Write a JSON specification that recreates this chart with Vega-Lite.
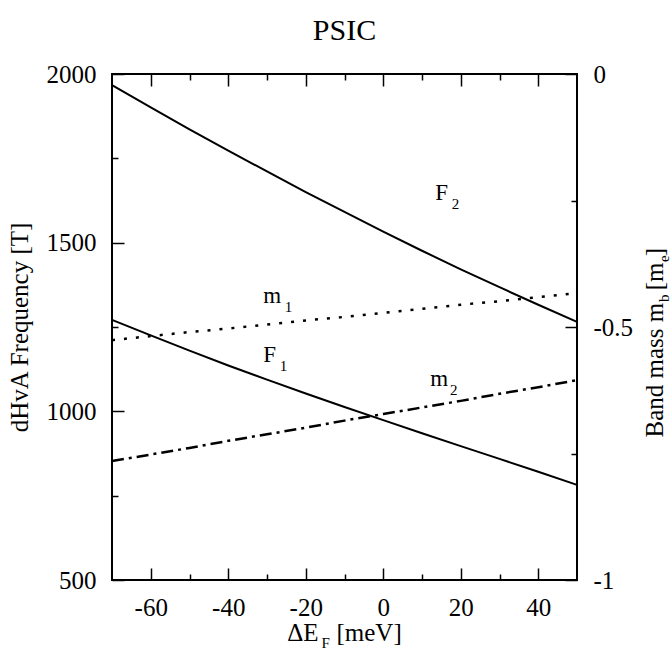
{
  "$schema": "https://vega.github.io/schema/vega-lite/v6.json",
  "width": 465,
  "height": 506,
  "autosize": {"type": "none"},
  "padding": {"left": 112, "top": 74, "right": 94, "bottom": 72},
  "background": "white",
  "title": {"text": "PSIC", "font": "Liberation Serif", "fontSize": 30, "fontWeight": "normal", "color": "black", "anchor": "middle", "frame": "group", "baseline": "alphabetic", "offset": -8},
  "config": {
    "view": {"stroke": "black", "strokeWidth": 2},
    "axis": {"labelFont": "Liberation Serif", "labelFontSize": 25, "labelColor": "black", "titleFont": "Liberation Serif", "titleFontSize": 25, "titleFontWeight": "normal", "titleColor": "black", "tickColor": "black", "tickWidth": 1.5, "grid": false, "domain": false, "labelFlush": false, "labelOverlap": false, "labelBound": false}
  },
  "datasets": {
    "freq": [
      {"x": -70, "F": 1271, "series": "F1"}, {"x": -60, "F": 1225, "series": "F1"}, {"x": -50, "F": 1180, "series": "F1"}, {"x": -40, "F": 1136, "series": "F1"}, {"x": -30, "F": 1094, "series": "F1"}, {"x": -20, "F": 1053, "series": "F1"}, {"x": -10, "F": 1013, "series": "F1"}, {"x": 0, "F": 974, "series": "F1"}, {"x": 10, "F": 935, "series": "F1"}, {"x": 20, "F": 897, "series": "F1"}, {"x": 30, "F": 859, "series": "F1"}, {"x": 40, "F": 821, "series": "F1"}, {"x": 50, "F": 782, "series": "F1"},
      {"x": -70, "F": 1967, "series": "F2"}, {"x": -60, "F": 1901, "series": "F2"}, {"x": -50, "F": 1836, "series": "F2"}, {"x": -40, "F": 1773, "series": "F2"}, {"x": -30, "F": 1711, "series": "F2"}, {"x": -20, "F": 1650, "series": "F2"}, {"x": -10, "F": 1591, "series": "F2"}, {"x": 0, "F": 1533, "series": "F2"}, {"x": 10, "F": 1476, "series": "F2"}, {"x": 20, "F": 1421, "series": "F2"}, {"x": 30, "F": 1368, "series": "F2"}, {"x": 40, "F": 1316, "series": "F2"}, {"x": 50, "F": 1265, "series": "F2"}
    ],
    "mass": [
      {"x": -70, "m": -0.526, "series": "m1"}, {"x": -60, "m": -0.518, "series": "m1"}, {"x": -50, "m": -0.510, "series": "m1"}, {"x": -40, "m": -0.503, "series": "m1"}, {"x": -30, "m": -0.495, "series": "m1"}, {"x": -20, "m": -0.487, "series": "m1"}, {"x": -10, "m": -0.480, "series": "m1"}, {"x": 0, "m": -0.472, "series": "m1"}, {"x": 10, "m": -0.464, "series": "m1"}, {"x": 20, "m": -0.456, "series": "m1"}, {"x": 30, "m": -0.449, "series": "m1"}, {"x": 40, "m": -0.441, "series": "m1"}, {"x": 50, "m": -0.433, "series": "m1"},
      {"x": -70, "m": -0.765, "series": "m2"}, {"x": -60, "m": -0.752, "series": "m2"}, {"x": -50, "m": -0.739, "series": "m2"}, {"x": -40, "m": -0.725, "series": "m2"}, {"x": -30, "m": -0.712, "series": "m2"}, {"x": -20, "m": -0.699, "series": "m2"}, {"x": -10, "m": -0.685, "series": "m2"}, {"x": 0, "m": -0.672, "series": "m2"}, {"x": 10, "m": -0.659, "series": "m2"}, {"x": 20, "m": -0.646, "series": "m2"}, {"x": 30, "m": -0.632, "series": "m2"}, {"x": 40, "m": -0.619, "series": "m2"}, {"x": 50, "m": -0.605, "series": "m2"}
    ],
    "labels": [
      {"x": -31.0, "y": 1321, "text": "m"},
      {"x": -31.0, "y": 1146, "text": "F"},
      {"x": 12.1, "y": 1075, "text": "m"},
      {"x": 13.4, "y": 1627, "text": "F"}
    ],
    "subs": [
      {"x": -25.4, "y": 1295, "text": "1"},
      {"x": -26.7, "y": 1120, "text": "1"},
      {"x": 17.2, "y": 1048, "text": "2"},
      {"x": 17.7, "y": 1600, "text": "2"}
    ]
  },
  "layer": [
    {
      "data": {"name": "freq"},
      "mark": {"type": "line", "color": "black", "strokeWidth": 2},
      "encoding": {
        "x": {"field": "x", "type": "quantitative", "scale": {"domain": [-70, 50], "nice": false, "zero": false},
              "axis": {"orient": "bottom", "values": [-60, -40, -20, 0, 20, 40], "tickSize": -12, "labelPadding": 27, "labelExpr": "'' + datum.value",
                       "title": "ΔE", "titleAlign": "right", "titleBaseline": "alphabetic", "titleAngle": 0, "titleX": 206, "titleY": 60}},
        "y": {"field": "F", "type": "quantitative", "scale": {"domain": [500, 2000], "nice": false, "zero": false},
              "axis": {"orient": "left", "values": [500, 1000, 1500, 2000], "tickSize": -12, "labelPadding": 28, "labelExpr": "'' + datum.value",
                       "title": "dHvA Frequency [T]", "titleAngle": 270, "titleAlign": "center", "titleBaseline": "alphabetic", "titleX": -85, "titleY": 253}},
        "detail": {"field": "series"}
      }
    },
    {
      "data": {"name": "mass"},
      "mark": {"type": "line", "color": "black", "strokeWidth": 2.5},
      "encoding": {
        "x": {"field": "x", "type": "quantitative", "scale": {"domain": [-70, 50], "nice": false, "zero": false},
              "axis": {"orient": "top", "values": [-60, -40, -20, 0, 20, 40], "tickSize": -12, "labels": false, "title": null}},
        "y": {"field": "m", "type": "quantitative", "scale": {"domain": [-1, 0], "nice": false, "zero": false},
              "axis": {"orient": "right", "values": [-1, -0.5, 0], "tickSize": -12, "labelPadding": 28, "labelExpr": "'' + datum.value",
                       "title": "Band mass m\u00a0\u00a0[m\u00a0]", "titleAngle": 270, "titleAlign": "left", "titleBaseline": "alphabetic", "titleX": 85, "titleY": 363}},
        "strokeDash": {"field": "series", "type": "nominal", "scale": {"domain": ["m1", "m2"], "range": [[3, 9], [12, 5, 3, 5]]}, "legend": null}
      }
    },
    {
      "data": {"name": "freq"},
      "mark": {"type": "line", "strokeOpacity": 0},
      "encoding": {
        "x": {"field": "x", "type": "quantitative", "scale": {"domain": [-70, 50], "nice": false, "zero": false},
              "axis": {"orient": "bottom", "values": [-50, -30, -10, 10, 30], "tickSize": -6, "labels": false,
                       "title": "F", "titleFontSize": 15, "titleAlign": "left", "titleBaseline": "alphabetic", "titleAngle": 0, "titleX": 209, "titleY": 67}},
        "y": {"field": "F", "type": "quantitative", "scale": {"domain": [500, 2000], "nice": false, "zero": false},
              "axis": {"orient": "left", "values": [750, 1250, 1750], "tickSize": -6, "labels": false, "title": null}},
        "detail": {"field": "series"}
      }
    },
    {
      "data": {"name": "mass"},
      "mark": {"type": "line", "strokeOpacity": 0},
      "encoding": {
        "x": {"field": "x", "type": "quantitative", "scale": {"domain": [-70, 50], "nice": false, "zero": false},
              "axis": {"orient": "top", "values": [-50, -30, -10, 10, 30], "tickSize": -6, "labels": false, "title": null}},
        "y": {"field": "m", "type": "quantitative", "scale": {"domain": [-1, 0], "nice": false, "zero": false},
              "axis": {"orient": "right", "values": [-0.75, -0.25], "tickSize": -6, "labels": false,
                       "title": "b", "titleFontSize": 15, "titleAngle": 270, "titleAlign": "left", "titleBaseline": "alphabetic", "titleX": 91, "titleY": 227.5}},
        "detail": {"field": "series"}
      }
    },
    {
      "data": {"name": "labels"},
      "mark": {"type": "text", "font": "Liberation Serif", "fontSize": 23, "align": "left", "baseline": "alphabetic", "color": "black"},
      "encoding": {
        "x": {"field": "x", "type": "quantitative", "scale": {"domain": [-70, 50], "nice": false, "zero": false},
              "axis": {"orient": "bottom", "ticks": false, "labels": false,
                       "title": "[meV]", "titleAlign": "left", "titleBaseline": "alphabetic", "titleAngle": 0, "titleX": 224, "titleY": 60}},
        "y": {"field": "y", "type": "quantitative", "scale": {"domain": [500, 2000], "nice": false, "zero": false},
              "axis": {"orient": "right", "ticks": false, "labels": false,
                       "title": "e", "titleFontSize": 15, "titleAngle": 270, "titleAlign": "left", "titleBaseline": "alphabetic", "titleX": 91, "titleY": 187.5}},
        "text": {"field": "text"}
      }
    },
    {
      "data": {"name": "subs"},
      "mark": {"type": "text", "font": "Liberation Serif", "fontSize": 15, "align": "left", "baseline": "alphabetic", "color": "black"},
      "encoding": {
        "x": {"field": "x", "type": "quantitative", "scale": {"domain": [-70, 50], "nice": false, "zero": false}, "axis": null},
        "y": {"field": "y", "type": "quantitative", "scale": {"domain": [500, 2000], "nice": false, "zero": false}, "axis": null},
        "text": {"field": "text"}
      }
    }
  ],
  "resolve": {"scale": {"y": "independent"}, "axis": {"x": "independent", "y": "independent"}}
}
